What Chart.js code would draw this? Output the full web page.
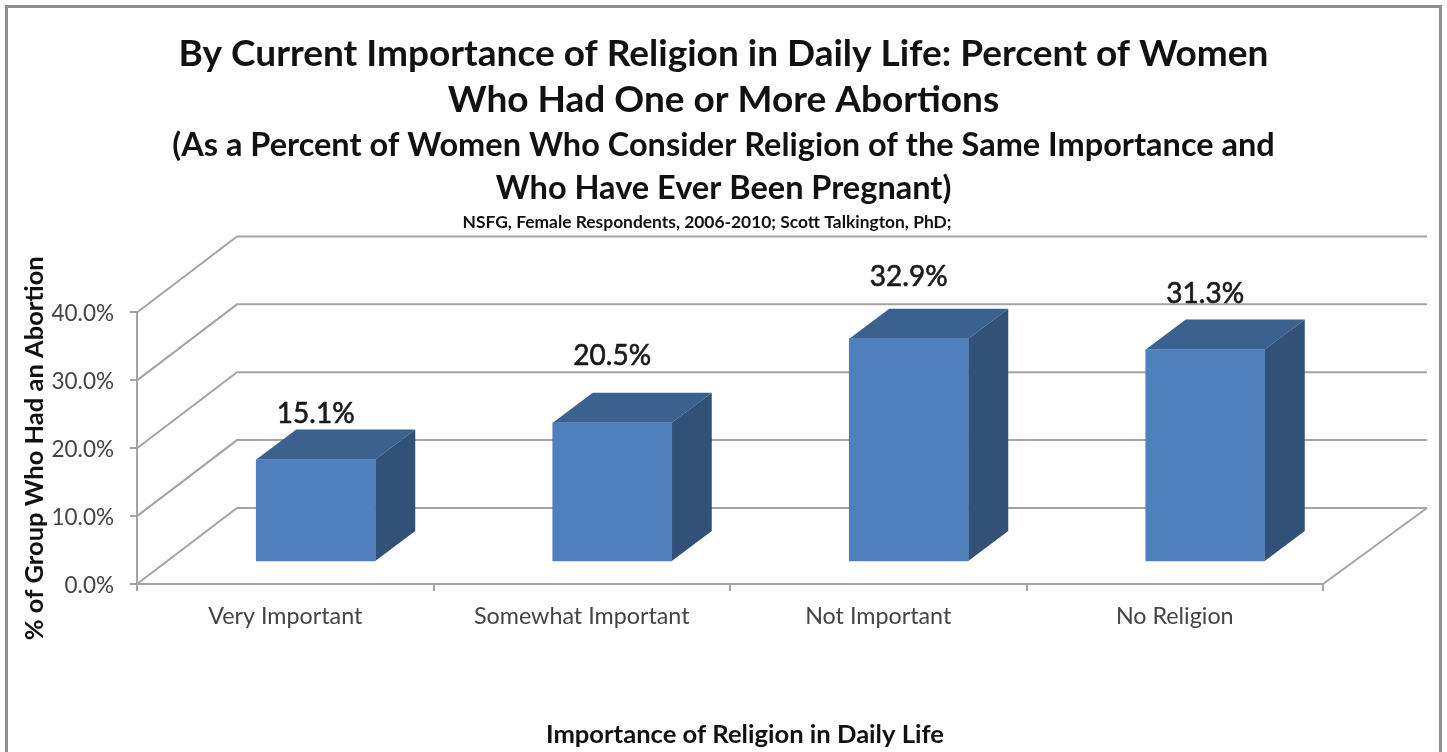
<!DOCTYPE html>
<html><head><meta charset="utf-8">
<style>html,body{margin:0;padding:0;background:#fff}canvas{display:block;filter:blur(0.5px)}</style>
<script src="https://cdn.jsdelivr.net/npm/chart.js@4"></script>
</head><body><canvas id="c" width="1447" height="752"></canvas>
<script>
const categories = ["Very Important","Somewhat Important","Not Important","No Religion"];
const abortionPercent = [15.1,20.5,32.9,31.3];
const titleLines = ["By Current Importance of Religion in Daily Life: Percent of Women","Who Had One or More Abortions"];
const subtitleLines = ["(As a Percent of Women Who Consider Religion of the Same Importance and","Who Have Ever Been Pregnant)"];
const sourceLine = "NSFG, Female Respondents, 2006-2010; Scott Talkington, PhD;";
const yAxisTitle = "% of Group Who Had an Abortion";
const xAxisTitle = "Importance of Religion in Daily Life";
const labelLift = [46,67,62,56];

const FONT = "Lato, 'Open Sans', sans-serif";
const GRID = "#a4a4a4";
const wall = {dx:100, dy:76, endX:104};
const barShift = {x:30.5, y:-22};
const barDepth = {x:40, y:-30};

const scene = {
  id:"scene",
  beforeDraw(chart){
    const c = chart.ctx;
    c.save();
    c.fillStyle="#fff"; c.fillRect(0,0,chart.width,chart.height);
    c.strokeStyle="#8f8f8f"; c.lineWidth=3;
    c.strokeRect(6.5,6.5,1434,800);
    c.restore();
  },
  beforeDatasetsDraw(chart){
    const c = chart.ctx, y = chart.scales.y, a = chart.chartArea;
    c.save();
    c.strokeStyle=GRID; c.lineWidth=2;
    y.ticks.forEach(t=>{
      const py = y.getPixelForValue(t.value);
      c.beginPath();
      c.moveTo(a.left,py);
      c.lineTo(a.left+wall.dx,py-wall.dy);
      c.lineTo(a.right+wall.endX,py-wall.dy);
      c.stroke();
    });
    const y0 = y.getPixelForValue(0);
    c.beginPath();
    c.moveTo(a.right,y0);
    c.lineTo(a.right+wall.endX,y0-wall.dy);
    c.stroke();
    c.restore();
  },
  beforeDatasetDraw(chart){
    const c = chart.ctx;
    c.save();
    c.translate(barShift.x,barShift.y);
    chart.getDatasetMeta(0).data.forEach(b=>{
      const l=b.x-b.width/2, r=b.x+b.width/2, t=b.y, bt=b.base;
      c.fillStyle="#3b618f";
      c.beginPath();
      c.moveTo(l,t);c.lineTo(l+barDepth.x,t+barDepth.y);c.lineTo(r+barDepth.x,t+barDepth.y);c.lineTo(r,t);c.closePath();c.fill();
      c.fillStyle="#315179";
      c.beginPath();
      c.moveTo(r,t);c.lineTo(r+barDepth.x,t+barDepth.y);c.lineTo(r+barDepth.x,bt+barDepth.y);c.lineTo(r,bt);c.closePath();c.fill();
    });
  },
  afterDatasetDraw(chart){
    const c = chart.ctx;
    c.restore();
    c.save();
    c.fillStyle="#1a1a1a"; c.strokeStyle="#1a1a1a"; c.lineWidth=0.6;
    c.font="28px "+FONT; c.textAlign="center"; c.textBaseline="middle";
    chart.getDatasetMeta(0).data.forEach((b,i)=>{
      const s=abortionPercent[i].toFixed(1)+"%", x=b.x+barShift.x, y=b.y+barShift.y-labelLift[i];
      c.fillText(s,x,y);
      c.strokeText(s,x,y);
    });
    c.restore();
  },
  afterDraw(chart){
    const c = chart.ctx;
    c.save();
    c.fillStyle="#111"; c.textAlign="center"; c.textBaseline="middle";
    c.font="bold 17.4px "+FONT;
    c.fillText(sourceLine,707,222);
    c.font="bold 25.6px "+FONT;
    c.fillText(xAxisTitle,745,735);
    c.restore();
  }
};

new Chart(document.getElementById("c"),{
  type:"bar",
  data:{labels:categories,datasets:[{label:yAxisTitle,data:abortionPercent,backgroundColor:"#4f7fbc",barThickness:119,clip:false,borderWidth:0}]},
  plugins:[scene],
  options:{
    responsive:false,animation:false,
    layout:{padding:0},
    plugins:{
      legend:{display:false},tooltip:{enabled:false},
      title:{display:true,text:titleLines,color:"#111",font:{family:FONT,size:37,weight:"bold",lineHeight:1.243},padding:{top:31,bottom:1.5}},
      subtitle:{display:true,text:subtitleLines,color:"#111",font:{family:FONT,size:32.5,weight:"bold",lineHeight:1.323},padding:{top:0,bottom:102}}
    },
    scales:{
      x:{
        grid:{drawOnChartArea:false,color:GRID,lineWidth:2,tickLength:7},
        border:{color:GRID,width:2},
        ticks:{color:"#444",font:{family:FONT,size:23.3},padding:11,maxRotation:0},
        afterFit(s){s.height=168;}
      },
      y:{
        min:0,max:40,
        grid:{drawOnChartArea:false,color:GRID,lineWidth:2,tickLength:7},
        border:{color:GRID,width:2},
        ticks:{stepSize:10,color:"#444",font:{family:FONT,size:22.5},padding:16,labelOffset:1.5,callback:v=>v.toFixed(1)+"%"},
        title:{display:true,text:yAxisTitle,color:"#111",font:{family:FONT,size:25.5,weight:"bold"},padding:{top:19,bottom:0}},
        afterFit(s){s.width=137;}
      },
      pad:{
        position:"right",display:true,min:0,max:1,
        grid:{display:false},border:{display:false},ticks:{display:false},
        afterFit(s){s.width=124;}
      }
    }
  }
});
</script></body></html>
